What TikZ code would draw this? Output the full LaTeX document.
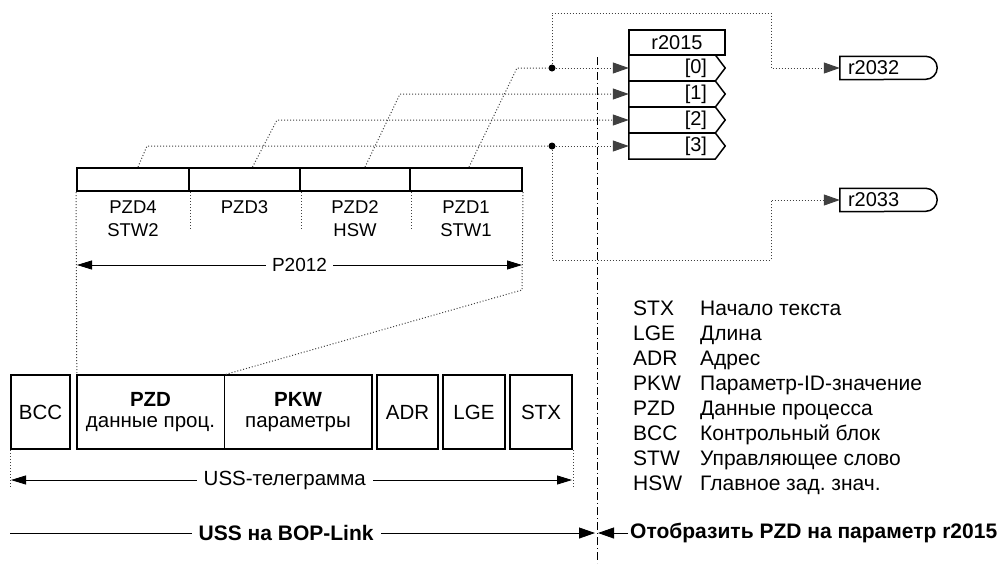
\documentclass[tikz,border=0pt]{standalone}
\usepackage{fontspec}
\setmainfont{Liberation Sans}
\usetikzlibrary{arrows.meta,calc}
\frenchspacing
\begin{document}
\begin{tikzpicture}[x=1pt,y=-1pt,
  every node/.style={font=\fontsize{20}{23}\selectfont},
  cellbox/.style={draw,line width=2pt,inner sep=0pt,minimum height=23pt},
  tbox/.style={draw,line width=2pt,inner sep=0pt,minimum height=74pt,font=\fontsize{20.5}{23}\selectfont},
  plain/.style={inner sep=0pt,align=center},
  toplbl/.style={inner sep=0pt,align=center,font=\fontsize{18.5}{23}\selectfont},
  dotl/.style={line width=1pt,dash pattern=on 1pt off 2pt,black!75},
  tip/.style={-{Triangle[length=16pt,width=11pt]}},
  tips/.style={{Triangle[length=15pt,width=9pt]}-{Triangle[length=15pt,width=9pt]}},
  dotn/.style={circle,fill,inner sep=0pt,minimum size=7pt},
  rowc/.style={inner ysep=0pt,inner xsep=8pt,minimum height=26pt,text width=70pt,align=right},
  outc/.style={inner xsep=8pt,inner ysep=0pt,minimum height=23pt,text width=69.5pt,align=left},
  legk/.style={anchor=base west,inner sep=0pt,font=\fontsize{21}{24}\selectfont},
  boldt/.style={font=\fontsize{21}{24}\selectfont\bfseries},
]
\useasboundingbox (0,0) rectangle (1003,563);

% PZD bar
\node[cellbox,minimum width=112pt] (c4) at (133,179.5) {};
\node[cellbox,minimum width=111pt] (c3) at (244.5,179.5) {};
\node[cellbox,minimum width=110pt] (c2) at (355,179.5) {};
\node[cellbox,minimum width=112pt] (c1) at (466,179.5) {};

\node[toplbl] (l4) at (133,218.5) {PZD4\\STW2};
\node[toplbl] (l3) at (244.5,207) {PZD3};
\node[toplbl] (l2) at (355,218.5) {PZD2\\HSW};
\node[toplbl] (l1) at (466,218.5) {PZD1\\STW1};

\draw[dotl] (c4.south east) -- ++(0,37);
\draw[dotl] (c3.south east) -- ++(0,37);
\draw[dotl] (c2.south east) -- ++(0,37);

% telegram
\node[tbox,minimum width=59pt] (bcc) at (40.5,412) {BCC};
\node[plain,minimum width=147pt,minimum height=74pt,font=\fontsize{20.5}{23}\selectfont] (pzdb) at (150.5,412) {\textbf{PZD}\\[-2pt]данные проц.};
\node[plain,minimum width=148pt,minimum height=74pt,font=\fontsize{20.5}{23}\selectfont] (pkwb) at (298,412) {\textbf{PKW}\\[-2pt]параметры};
\draw[line width=2pt] (pzdb.north west) rectangle (pkwb.south east);
\draw[line width=0.8pt] (pzdb.north east) -- (pzdb.south east);
\node[tbox,minimum width=61pt] (adr) at (407.5,412) {ADR};
\node[tbox,minimum width=62pt] (lge) at (474,412) {LGE};
\node[tbox,minimum width=62pt] (stx) at (541,412) {STX};

\draw[dotl] (c4.south west) -- (pzdb.north west);
\coordinate (bend) at (522,290);
\draw[dotl] (c1.south east) -- (bend) -- (pzdb.north east);

\coordinate (pa) at (77,265);
\coordinate (pb) at (522,265);
\draw[tips,line width=0.8pt] (pa) -- (pb) node[midway,fill=white,inner xsep=6pt,inner ysep=1pt,font=\fontsize{19}{23}\selectfont] (p2012) {P2012};

\draw[dotl] (bcc.south west) -- ++(0,38);
\draw[dotl] (stx.south east) -- ++(0,38);
\coordinate (ta) at (11,480);
\coordinate (tb) at (572,480);
\draw[tips,line width=0.8pt] (ta) -- (tb) node[pos=0.488,fill=white,inner xsep=7pt,font=\fontsize{20.5}{23}\selectfont] (ussl) {USS-телеграмма};

% r2015
\node[draw,line width=2pt,minimum width=96pt,minimum height=25pt,inner sep=0pt] (rh) at (677,42.5) {r2015};
\foreach \i/\y in {0/68,1/94,2/120,3/146}{
  \node[rowc] (r\i) at (672,\y) {[\i]};
  \draw[line width=1.5pt] (r\i.north west) -- (r\i.north east) -- ($(r\i.east)+(10,0)$) -- (r\i.south east) -- (r\i.south west) -- cycle;
}

\node[dotn] (d0) at (552,68) {};
\node[dotn] (d3) at (552,146) {};

\coordinate (k1) at (517,68);
\coordinate (k2) at (400,94);
\coordinate (k3) at (277,120);
\coordinate (k4) at (147,146);
\draw[dotl] ($(c1.north)+(3,0)$) -- (k1) -- (d0);
\draw[dotl,tip] (d0) -- (r0.west);
\draw[dotl,tip] ($(c2.north)+(10,0)$) -- (k2) -- (r1.west);
\draw[dotl,tip] ($(c3.north)+(8,0)$) -- (k3) -- (r2.west);
\draw[dotl] ($(c4.north)+(5,0)$) -- (k4) -- (d3);
\draw[dotl,tip] (d3) -- (r3.west);

% outputs
\node[outc] (o1) at (882.75,68) {r2032};
\draw[line width=1.5pt] (o1.north west) -- (o1.north east) arc[start angle=90,end angle=-90,radius=11.5pt] -- (o1.south west) -- cycle;
\node[outc] (o2) at (882.75,200) {r2033};
\draw[line width=1.5pt] (o2.north west) -- (o2.north east) arc[start angle=90,end angle=-90,radius=11.5pt] -- (o2.south west) -- cycle;

\coordinate (t0) at (552,13);
\coordinate (t1) at (771,13);
\coordinate (t2) at (771,68);
\draw[dotl,tip] (d0) -- (t0) -- (t1) -- (t2) -- (o1.west);
\coordinate (u0) at (552,260);
\coordinate (u1) at (771,260);
\coordinate (u2) at (771,200);
\draw[dotl,tip] (d3) -- (u0) -- (u1) -- (u2) -- (o2.west);

% separator
\coordinate (dd1) at (597,57);
\coordinate (dd2) at (597,563);
\draw[line width=0.8pt,dash pattern=on 8pt off 3pt on 1pt off 3pt] (dd1) -- (dd2);

% legend
\foreach \i/\a/\b in {0/STX/Начало текста,1/LGE/Длина,2/ADR/Адрес,3/PKW/Параметр-ID-значение,4/PZD/Данные процесса,5/BCC/Контрольный блок,6/STW/Управляющее слово,7/HSW/Главное зад. знач.}{
  \node[legk] (la\i) at (633,{315+25*\i}) {\a};
  \node[legk] (lb\i) at (700,{315+25*\i}) {\b};
}

% bottom
\coordinate (bl) at (10,533);
\coordinate (br) at (595,533);
\draw[tip,line width=0.8pt] (bl) -- (br) node[pos=0.472,fill=white,boldt,inner xsep=7pt] (uss) {USS на BOP-Link};
\node[boldt,anchor=west,inner xsep=2pt] (map) at (628,533) {Отобразить PZD на параметр r2015};
\coordinate (cl) at (598,533);
\draw[tip,line width=0.8pt] (map.west) -- (cl);
\end{tikzpicture}
\end{document}
